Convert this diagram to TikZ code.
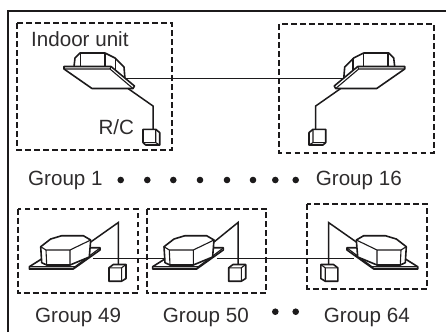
\documentclass[tikz,border=0pt]{standalone}
\usepackage{fontspec}
\setmainfont{Liberation Sans}
\definecolor{ink}{HTML}{1C1A1B}
\definecolor{txt}{HTML}{2E2C2D}
\tikzset{
  x=1pt,y=-1pt,
  frameline/.style={draw=ink,line width=2.8pt},
  groupbox/.style={draw=ink,line width=2.3pt,dash pattern=on 5.8pt off 3.2pt},
  part/.style={draw=ink,line width=1.6pt,fill=white,line join=round},
  thin part/.style={draw=ink,line width=1.1pt},
  wire/.style={draw=ink,line width=1.5pt,line join=miter},
  bus/.style={draw=ink,line width=1pt},
  lab/.style={text=txt,font=\fontsize{20.6}{22}\selectfont,inner sep=0pt,anchor=base west},
  dotmark/.style={circle,fill=ink,inner sep=0pt,minimum size=6.6pt},
  pics/cassette/.style={code={
    \draw[part] (74,66.5) -- (75,58) -- (80,53) -- (105,53) -- (115,58) -- (124,67) -- (125,79) -- (111,80) -- cycle;
    \draw[thin part] (80.7,53) -- (80.7,66) (105,53) -- (105,66) (115.7,58) -- (115.7,70);
    \draw[part] (64,66.5) -- (111,66.5) -- (134.5,86) -- (133,88.5) -- (92,88.5) -- (64,69) -- cycle;
    \draw[thin part] (64,69) -- (110,69) -- (133,88.5) (111,66.5) -- (110,69);
    \coordinate (-bus) at (125,78);
    \coordinate (-rc) at (128,88.5);
  }},
  pics/rcbox/.style={code={
    \draw[part] (-10,0) -- (2.7,0) -- (6.7,3.3) -- (6.7,15.7) -- (-7.3,15.7) -- (-10,13.3) -- cycle;
    \draw[thin part] (-10,13.3) -- (2.7,13.3) -- (2.7,0) (2.7,13.3) -- (6.7,15.7);
  }},
  pics/floorunit/.style={code={
    \draw[part] (29.3,266.7) -- (42.7,258.3) -- (68,247.7) -- (100,247.7) -- (100,250) -- (73.3,269) -- (29.3,269) -- cycle;
    \draw[thin part] (29.3,266.7) -- (75,266.7) -- (100,248) (75,266.7) -- (73.3,269);
    \draw[part] (40.7,246.7) -- (50.7,239) -- (61.7,235.7) -- (83.3,235.7) -- (90.7,240) -- (89.3,257) -- (70,265) -- (46.7,265) -- (41.7,262.7) -- cycle;
    \draw[thin part] (40.7,246.7) -- (46,250) -- (70,250) -- (90.7,240) (46,250) -- (46.7,265) (70,250) -- (70,265);
    \coordinate (-busout) at (93.3,258.3);
    \coordinate (-busin) at (42,258.3);
    \coordinate (-rc) at (90.7,242);
  }},
  pics/floorrc/.style={code={
    \draw[part] (-9.3,3.3) -- (-5,0) -- (7.7,0) -- (7.7,14) -- (3.3,16.7) -- (-9.3,16.7) -- cycle;
    \draw[thin part] (-9.3,3.3) -- (3.3,3.3) -- (3.3,16.7) (3.3,3.3) -- (7.7,0);
  }},
}
\begin{document}
\begin{tikzpicture}
\path[use as bounding box] (0,0) rectangle (446,332);
% frame
\coordinate (fbl) at (8,332);
\coordinate (ftl) at (8,11);
\coordinate (ftr) at (446,11);
\draw[frameline] (fbl) -- (ftl) -- (ftr);
% group boxes
\draw[groupbox] (17,23) rectangle (172,150);
\draw[groupbox] (279,24.3) rectangle (434,152.7);
\draw[groupbox] (18.3,208.7) rectangle (137.7,293.3);
\draw[groupbox] (146.7,208.7) rectangle (266,293.3);
\draw[groupbox] (307.3,204.3) rectangle (427,288.7);
% ceiling units
\pic (u1) at (0,0) {cassette};
\pic[xscale=-1] (u16) at (468.7,0) {cassette};
\coordinate (k1) at (153,106);
\coordinate (k16) at (315.7,106);
\coordinate (r1) at (153,129.3);
\coordinate (r16) at (315.7,129.3);
\pic at (r1) {rcbox};
\pic[xscale=-1] at (r16) {rcbox};
\draw[bus] (u1-bus) -- (u16-bus);
\draw[wire] (u1-rc) -- (k1) -- (r1);
\draw[wire] (u16-rc) -- (k16) -- (r16);
% floor units
\pic (u49) at (0,0) {floorunit};
\pic (u50) at (123.3,0) {floorunit};
\pic[xscale=-1] (u64) at (447,0) {floorunit};
\coordinate (k49) at (118.3,222.5);
\coordinate (k50) at (238,222.5);
\coordinate (k64) at (328.5,222.5);
\coordinate (r49) at (118.3,264.5);
\coordinate (r50) at (238,264.5);
\coordinate (r64) at (328.5,264.5);
\draw[bus] (u49-busout) -- (u50-busin);
\draw[bus] (u50-busout) -- (u64-busout);
\draw[wire] (u49-rc) -- (k49) -- (r49);
\draw[wire] (u50-rc) -- (k50) -- (r50);
\draw[wire] (u64-rc) -- (k64) -- (r64);
\pic at (r49) {floorrc};
\pic at (r50) {floorrc};
\pic[xscale=-1] at (r64) {floorrc};
% labels
\node[lab] (tindoor) at (31,46) {Indoor unit};
\node[lab] (trc) at (98.3,134) {R/C};
\node[lab] (tg1) at (28,185) {Group 1};
\node[lab] (tg16) at (315.7,185) {Group 16};
\node[lab] (tg49) at (35,322) {Group 49};
\node[lab] (tg50) at (162.7,322) {Group 50};
\node[lab] (tg64) at (323.7,322) {Group 64};
% dots
\node[dotmark] (d1) at (120.7,180) {};
\node[dotmark] (d2) at (147.3,180) {};
\node[dotmark] (d3) at (173.3,180) {};
\node[dotmark] (d4) at (200,180) {};
\node[dotmark] (d5) at (227,180) {};
\node[dotmark] (d6) at (253,180) {};
\node[dotmark] (d7) at (275.3,180) {};
\node[dotmark] (d8) at (295.7,180) {};
\node[dotmark] (d9) at (275.3,311.7) {};
\node[dotmark] (d10) at (295.7,311.7) {};
\end{tikzpicture}
\end{document}
